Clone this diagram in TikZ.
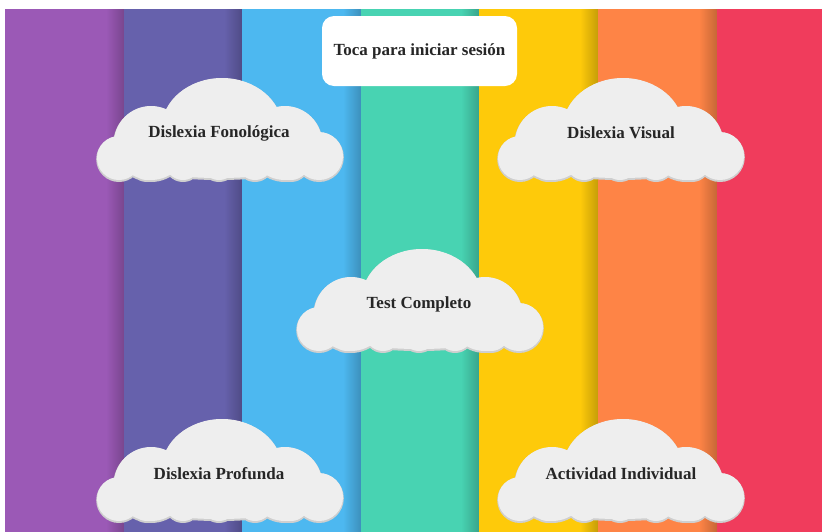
\documentclass[tikz,border=0pt]{standalone}
\usepackage{fontspec}
\setmainfont{Liberation Serif}

\definecolor{stripeone}{HTML}{9B59B6}
\definecolor{stripetwo}{HTML}{6661AC}
\definecolor{stripethree}{HTML}{4DB8F0}
\definecolor{stripefour}{HTML}{48D3B2}
\definecolor{stripefive}{HTML}{FECA0A}
\definecolor{stripesix}{HTML}{FE8446}
\definecolor{stripeseven}{HTML}{F03C5C}
\definecolor{cloudbody}{HTML}{EEEEEE}
\definecolor{cloudedge}{HTML}{CFCFCF}
\definecolor{inkdark}{HTML}{262626}

\begin{document}
\begin{tikzpicture}[x=1pt,y=-1pt,
    cloudtext/.style={font=\fontsize{17}{20}\selectfont\bfseries,text=inkdark},
    cloud/.pic={
        \path[fill=cloudbody,preaction={fill=cloudedge,draw=cloudedge,line width=1.6pt,transform canvas={yshift=-1.2pt}}]
            (3,0) ellipse [x radius=60,y radius=50]
            (-68,15) circle [radius=37]
            (66,15) circle [radius=37]
            (-100,30) circle [radius=22]
            (100,28) circle [radius=24]
            (-72,34) circle [radius=18]
            (-36,34) circle [radius=18]
            (0,34) circle [radius=18]
            (36,34) circle [radius=18]
            (72,34) circle [radius=18]
            (0,25) ellipse [x radius=105,y radius=25];
    }]
    \useasboundingbox[fill=white] (0,0) rectangle (822,531);

    % stripes
    \fill[stripeone] (5,9) rectangle (124,532);
    \shade[left color=stripeone,right color=stripeone!78!black] (106,9) rectangle (124,532);
    \fill[stripetwo] (124,9) rectangle (242,532);
    \shade[left color=stripetwo,right color=stripetwo!78!black] (224,9) rectangle (242,532);
    \fill[stripethree] (242,9) rectangle (361,532);
    \shade[left color=stripethree,right color=stripethree!78!black] (343,9) rectangle (361,532);
    \fill[stripefour] (361,9) rectangle (479,532);
    \shade[left color=stripefour,right color=stripefour!78!black] (461,9) rectangle (479,532);
    \fill[stripefive] (479,9) rectangle (598,532);
    \shade[left color=stripefive,right color=stripefive!78!black] (580,9) rectangle (598,532);
    \fill[stripesix] (598,9) rectangle (717,532);
    \shade[left color=stripesix,right color=stripesix!78!black] (699,9) rectangle (717,532);
    \fill[stripeseven] (717,9) rectangle (822,532);

    % login button
    \node[cloudtext,fill=white,rounded corners=12pt,minimum width=195pt,minimum height=70pt] (inicio) at (419.5,51) {Toca para iniciar sesión};

    % clouds
    \pic at (219,128) {cloud};
    \pic at (620,128) {cloud};
    \pic at (419,299) {cloud};
    \pic at (219,469) {cloud};
    \pic at (620,469) {cloud};

    \node[cloudtext] (fonologica) at (219,133) {Dislexia Fonológica};
    \node[cloudtext] (visual) at (621,133) {Dislexia Visual};
    \node[cloudtext] (completo) at (419,304) {Test Completo};
    \node[cloudtext] (profunda) at (219,474) {Dislexia Profunda};
    \node[cloudtext] (individual) at (621,474) {Actividad Individual};
\end{tikzpicture}
\end{document}
